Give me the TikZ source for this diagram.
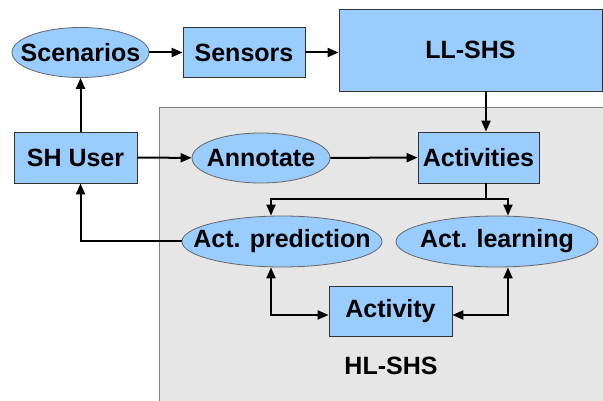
\documentclass[tikz,border=0pt]{standalone}
\usepackage{fontspec}
\setmainfont{Liberation Sans}
\usetikzlibrary{shapes.geometric, arrows.meta}
\usetikzlibrary{positioning}
\usetikzlibrary{calc}
\definecolor{boxblue}{HTML}{99CCFF}
\definecolor{hlgray}{HTML}{E6E6E6}
\tikzset{
box/.style={
	rectangle,
	text centered,
	draw=black!80,
	line width=0.8pt,
	fill=boxblue,
	inner sep=0pt,
	font=\bfseries\fontsize{25}{28}\selectfont
},
ellipsebox/.style={
	ellipse,
	text centered,
	draw=black!60,
	line width=0.8pt,
	fill=boxblue,
	inner sep=0pt,
	font=\bfseries\fontsize{25}{28}\selectfont
},
arrow/.style={
	-{Triangle[length=11pt,width=9pt]},
	draw=black,
	line width=2pt
},
twoarrow/.style={
	{Triangle[length=11pt,width=9pt]}-{Triangle[length=11pt,width=9pt]},
	draw=black,
	line width=2pt
}
}

\begin{document}
\begin{tikzpicture}[x=1pt, y=-1pt]

\useasboundingbox (0,0) rectangle (603,401);

% HL-SHS area
\fill[hlgray] (159,108) rectangle (603,401);
\draw[black!50, line width=1pt] (159,401) -- (159,108) -- (603,108);

\node (Scenarios) [ellipsebox, minimum width=137pt, minimum height=50pt] at (80.5,52.5) {\makebox[0pt]{Scenarios}};
\node (Sensors) [box, minimum width=122pt, minimum height=50pt] at (244,52.5) {Sensors};
\node (LLSHS) [box, minimum width=263pt, minimum height=82pt] at (470.5,50) {LL-SHS};
\node (SHUser) [box, minimum width=123pt, minimum height=51pt] at (75.5,157.5) {SH User};
\node (Annotate) [ellipsebox, minimum width=138pt, minimum height=50pt] at (261,158) {\makebox[0pt]{Annotate}};
\node (Activities) [box, minimum width=121pt, minimum height=51pt] at (478.5,157.5) {Activities};
\node (ActPred) [ellipsebox, minimum width=200pt, minimum height=51pt] at (282,241.5) {\makebox[0pt]{Act. prediction}};
\node (ActLearn) [ellipsebox, minimum width=202pt, minimum height=51pt] at (497,241.5) {\makebox[0pt]{Act. learning}};
\node (Activity) [box, minimum width=123pt, minimum height=50pt] at (390.5,311) {Activity};
\node (HLSHS) [font=\bfseries\fontsize{25}{28}\selectfont] at (391,366) {HL-SHS};

\coordinate (split) at (486,199);

% top row
\draw[arrow] (Scenarios) -- (Sensors);
\draw[arrow] (Sensors.east) -- (Sensors.east -| LLSHS.west);
\draw[arrow] (Scenarios.south |- SHUser.north) -- (Scenarios.south);

% into Activities
\draw[arrow] (SHUser) -- (Annotate);
\draw[arrow] (Annotate) -- (Activities);
\draw[arrow] (split |- LLSHS.south) -- (split |- Activities.north);

% Activities -> prediction / learning
\draw[line width=2pt] (split |- Activities.south) -- (split);
\draw[arrow] (split) -| ([xshift=-11pt]ActPred.north);
\draw[arrow] (split) -| ([xshift=11pt]ActLearn.north);

% prediction back to the user
\draw[arrow] (ActPred.west) -| (Scenarios.south |- SHUser.south);

% both ways with Activity
\draw[twoarrow] ([xshift=-11pt]ActPred.south) |- ([yshift=-4pt]Activity.west);
\draw[twoarrow] ([xshift=11pt]ActLearn.south) |- ([yshift=-4pt]Activity.east);

\end{tikzpicture}
\end{document}
